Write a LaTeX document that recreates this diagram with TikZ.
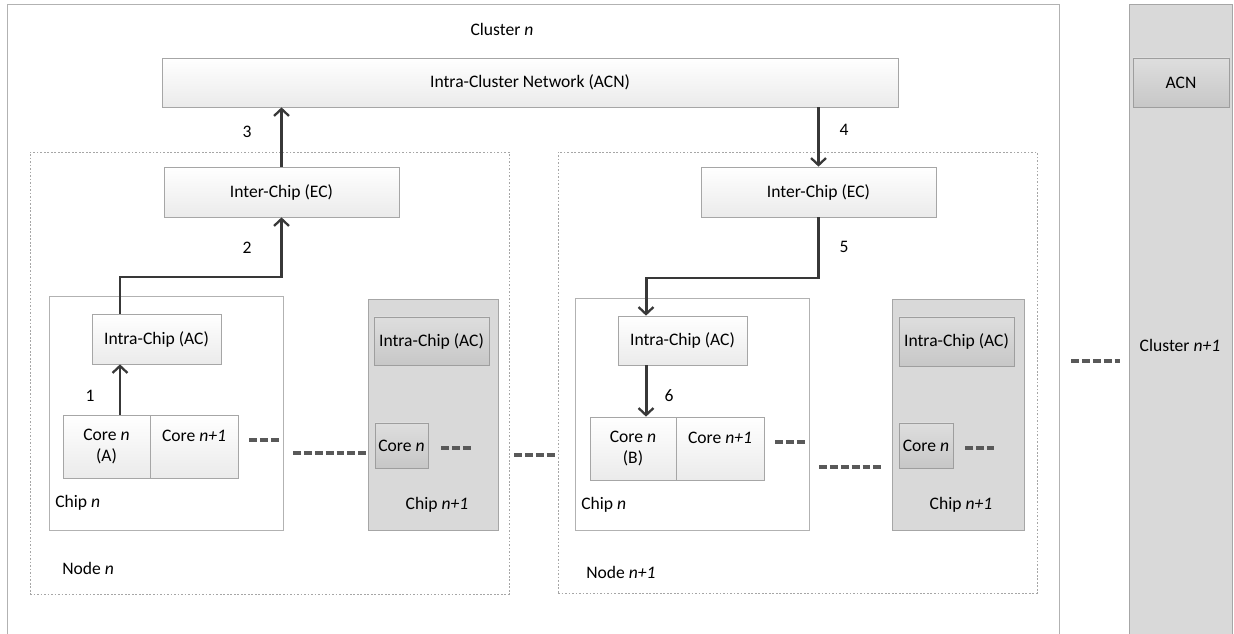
\documentclass[tikz,border=0pt]{standalone}
\usepackage{fontspec}
\setmainfont{Carlito}
\usetikzlibrary{fit,shadows,arrows.meta}

\begin{document}
\begin{tikzpicture}[x=0.02cm, y=-0.02cm,
  box/.style={draw=black!35, top color=white, bottom color=black!8, inner sep=0pt,
    drop shadow={opacity=0.2, shadow xshift=0.8pt, shadow yshift=-0.8pt}},
  darkbox/.style={draw=black!38, top color=black!13, bottom color=black!22, inner sep=0pt,
    drop shadow={opacity=0.2, shadow xshift=0.8pt, shadow yshift=-0.8pt}},
  chip/.style={draw=black!30, fill=white, inner sep=0pt,
    drop shadow={opacity=0.15, shadow xshift=0.8pt, shadow yshift=-0.8pt}},
  greychip/.style={draw=black!35, fill=black!15, inner sep=0pt},
  nodebox/.style={draw=black!35, dash pattern=on 1pt off 1pt, line width=0.4pt, inner sep=0pt},
  flow/.style={-{Straight Barb[length=4pt, width=8.5pt, line width=1.3pt]}, draw=black!78, line width=1.7pt},
  ellip/.style={draw=black!65, line width=1.9pt, dash pattern=on 4.5pt off 1.7pt},
  txt/.style={label={[align=center]center:#1}},
  lbl/.style={inner sep=0pt}]
\useasboundingbox (0,0) rectangle (1234,634);

% cluster n and cluster n+1
\draw[draw=black!30] (7,640) |- (1059,4) -- (1059,640);
\node[lbl] (clA) at (502,29) {Cluster \textit{n}};
\node[greychip, fit={(1129,4) (1232,640)}] (clB) {};
\node[lbl] at (1180,345) {Cluster \textit{n+1}};
\node[darkbox, fit={(1133,58) (1229,107)}, txt=ACN] (acnB) {};
\node[box, fit={(162,58) (898,107)}, txt=Intra-Cluster Network (ACN)] (acn) {};

% node n
\node[nodebox, fit={(30,152) (509,594)}] (nodeA) {};
\node[lbl, anchor=west] at (62,568) {Node \textit{n}};
\node[box, fit={(164,167) (399,217)}, txt=Inter-Chip (EC)] (ecA) {};
\node[chip, fit={(49,296) (283,530)}] (chipA) {};
\node[lbl, anchor=west] at (55,503) {Chip \textit{n}};
\node[box, fit={(92,314) (221,364)}, txt=Intra-Chip (AC)] (acA) {};
\node[box, fit={(63,415) (150,478)}, txt={Core \textit{n}\\(A)}] (coreA) {};
\node[box, fit={(150,415) (238,478)}, txt={Core \textit{n+1}\\\mbox{}}] (coreA1) {};
\node[greychip, fit={(368,299) (498,530)}] (chipA1) {};
\node[lbl] at (437,505) {Chip \textit{n+1}};
\node[darkbox, fit={(374,317) (489,365)}, txt=Intra-Chip (AC)] (acA1) {};
\node[darkbox, fit={(375,423) (428,468)}, txt=Core \textit{n}] (coreA2) {};

% node n+1
\node[nodebox, fit={(558,152) (1037,593)}] (nodeB) {};
\node[lbl, anchor=west] at (586,572) {Node \textit{n+1}};
\node[box, fit={(701,167) (936,217)}, txt=Inter-Chip (EC)] (ecB) {};
\node[chip, fit={(575,298) (809,530)}] (chipB) {};
\node[lbl, anchor=west] at (581,505) {Chip \textit{n}};
\node[box, fit={(618,316) (747,365)}, txt=Intra-Chip (AC)] (acB) {};
\node[box, fit={(590,417) (676,480)}, txt={Core \textit{n}\\(B)}] (coreB) {};
\node[box, fit={(676,417) (764,480)}, txt={Core \textit{n+1}\\\mbox{}}] (coreB1) {};
\node[greychip, fit={(892,299) (1024,530)}] (chipB1) {};
\node[lbl] at (961,505) {Chip \textit{n+1}};
\node[darkbox, fit={(899,317) (1014,366)}, txt=Intra-Chip (AC)] (acB1) {};
\node[darkbox, fit={(899,423) (953,468)}, txt=Core \textit{n}] (coreB2) {};

% path from core A to core B
\coordinate (pA) at (120,0);
\coordinate (pB) at (646,0);
\coordinate (bendA) at (120,277);
\coordinate (bendB) at (646,278);
\draw[flow] (coreA.north -| pA) -- (acA.south -| pA);
\draw[flow] (acA.north -| pA) -- (bendA) -| (ecA.south);
\draw[flow] (ecA.north) -- (acn.south -| ecA.north);
\draw[flow] (acn.south -| ecB.north) -- (ecB.north);
\draw[flow] (ecB.south) |- (bendB) -- (acB.north -| bendB);
\draw[flow] (acB.south -| pB) -- (coreB.north -| pB);
\node[lbl] at (90,396) {1};
\node[lbl] at (247,248) {2};
\node[lbl] at (247,132) {3};
\node[lbl] at (844,130) {4};
\node[lbl] at (844,247) {5};
\node[lbl] at (669,396) {6};

% ellipses
\draw[ellip] (249,440) -- (279,440);
\draw[ellip] (293,453) -- (366,453);
\draw[ellip] (441,448) -- (471,448);
\draw[ellip] (514,455) -- (557,455);
\draw[ellip] (775,442) -- (805,442);
\draw[ellip] (819,467) -- (881,467);
\draw[ellip] (965,448) -- (994,448);
\draw[ellip] (1071,361) -- (1120,361);
\end{tikzpicture}
\end{document}
